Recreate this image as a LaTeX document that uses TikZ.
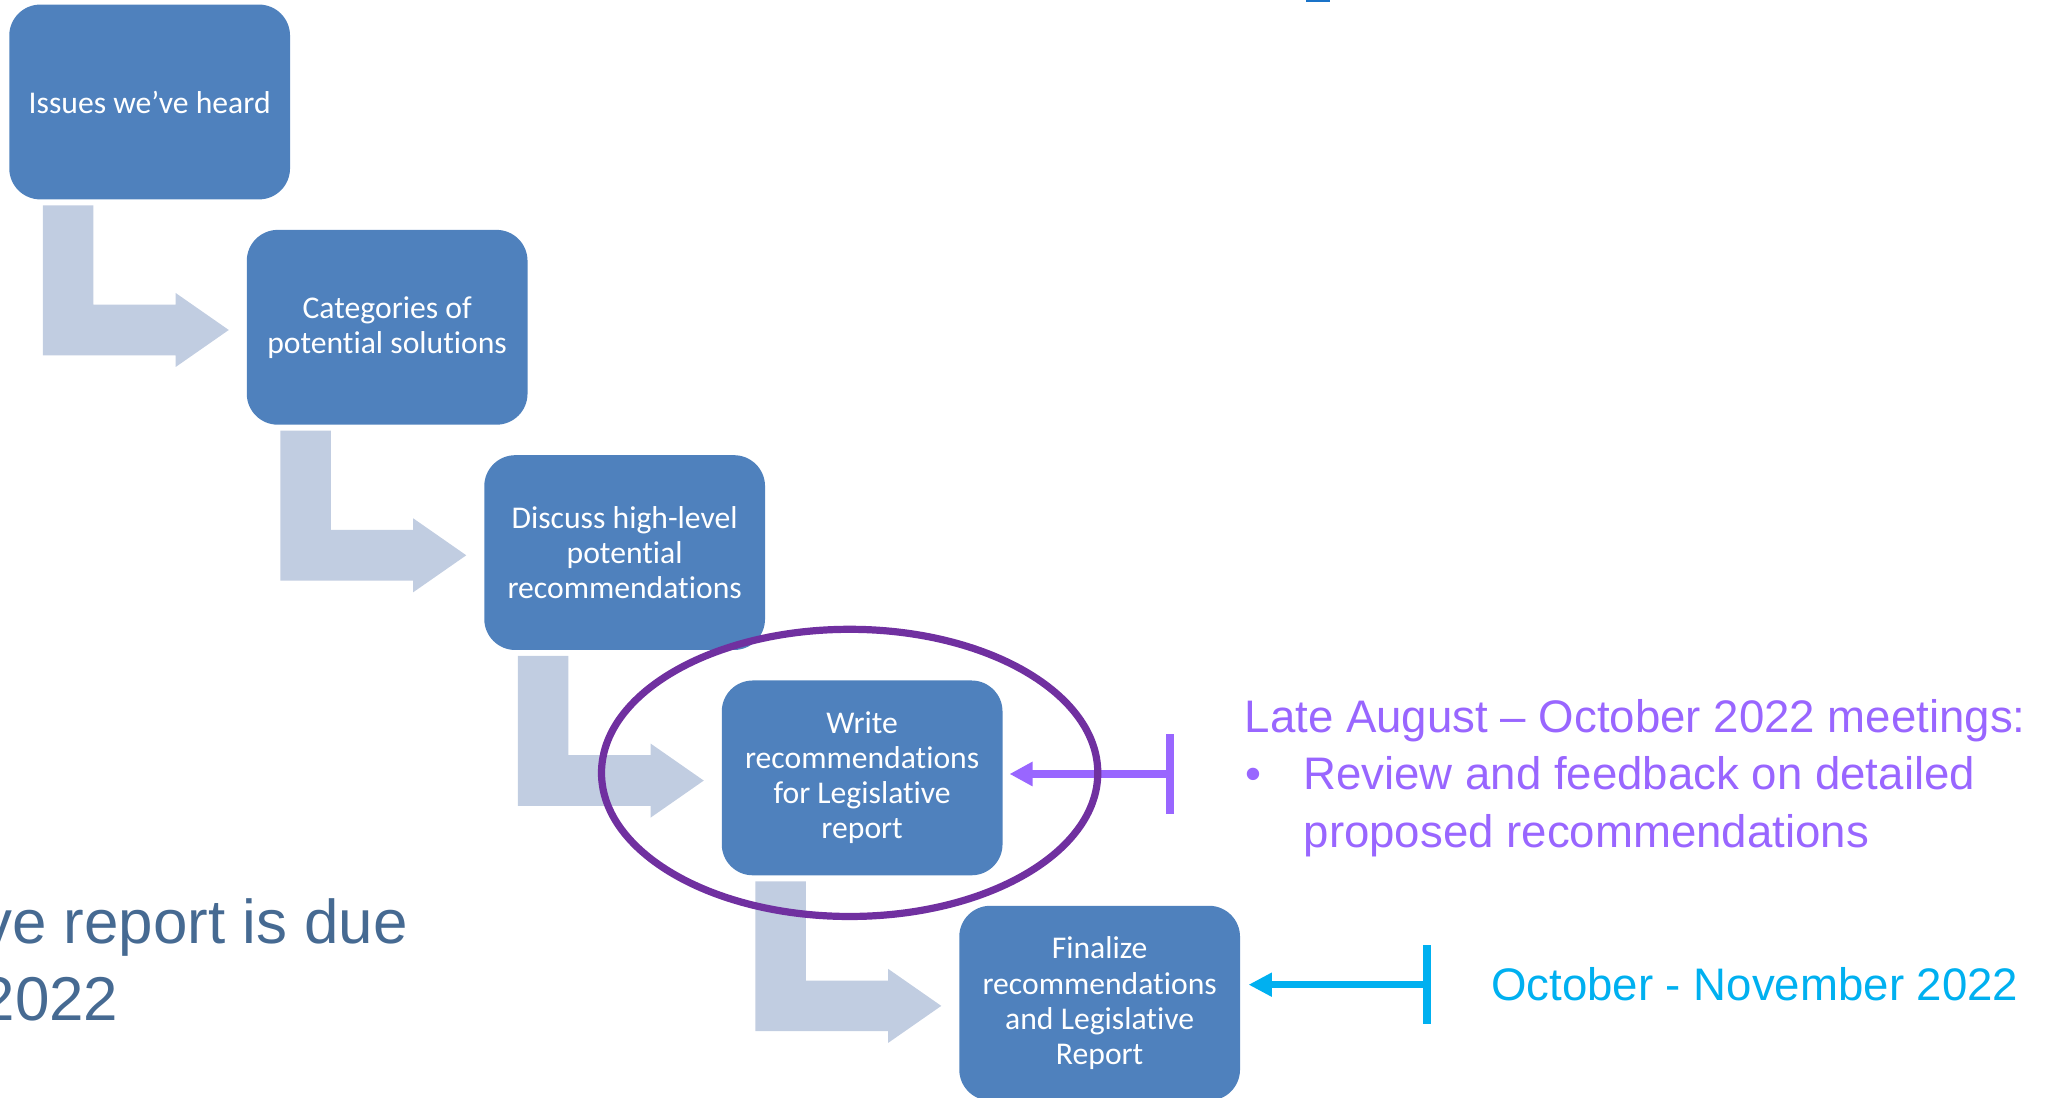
\documentclass[tikz,border=0pt]{standalone}
\usepackage{fontspec}
\setmainfont{Carlito}[Ligatures=NoCommon]
\newfontfamily\arialf{Liberation Sans}
\usetikzlibrary{calc,arrows.meta,shapes.geometric}
\definecolor{boxblue}{RGB}{79,129,189}
\definecolor{arrowgray}{RGB}{193,205,225}
\definecolor{ringpurple}{RGB}{112,48,160}
\definecolor{linkpurple}{RGB}{153,102,255}
\definecolor{linkcyan}{RGB}{0,176,240}
\definecolor{slate}{RGB}{70,106,146}
\definecolor{topblue}{RGB}{26,115,200}
\tikzset{
  stepbox/.style={fill=boxblue, rounded corners=0.31cm, minimum width=2.806cm,
    minimum height=1.947cm, inner sep=0pt, outer sep=0pt, align=center, text=white,
    font=\fontsize{9pt}{10pt}\selectfont},
  flowarrow/.style={fill=arrowgray},
  ring/.style={draw=ringpurple, line width=0.072cm, ellipse, minimum width=4.96cm,
    minimum height=2.87cm, inner sep=0pt},
  purplelink/.style={draw=linkpurple, line width=0.08cm,
    {Bar[width=0.79cm]}-{Triangle[length=0.23cm,width=0.23cm]}},
  cyanlink/.style={draw=linkcyan, line width=0.075cm,
    {Bar[width=0.784cm]}-{Triangle[length=0.234cm,width=0.227cm]}},
  rtext/.style={font=\arialf\fontsize{12.97pt}{16.3pt}\selectfont, inner sep=0pt, anchor=base west},
  ltext/.style={font=\arialf\fontsize{17.6pt}{22.2pt}\selectfont, text=slate, inner sep=0pt, anchor=base east},
}
\newcommand\bentarr[2]{%
  \coordinate (ba) at ($(#1.south west)+(33.5,6)$);
  \coordinate (bb) at ($(#1.south west)+(84.2,6)$);
  \coordinate (bx) at ($(#1.south west)+(166.4,0)$);
  \coordinate (bt) at ($(#2.west)+(-18,2.7)$);
  \coordinate (bt1) at ($(bt)+(0,-25.35)$);
  \coordinate (bt2) at ($(bt)+(0,25.35)$);
  \coordinate (bh1) at ($(bt)+(0,-37)$);
  \coordinate (bh2) at ($(bt)+(0,37)$);
  \fill[flowarrow] (ba) -- (bb) -- (bb |- bt1) -- (bx |- bt1) -- (bx |- bh1) -- (bt)
    -- (bx |- bh2) -- (bx |- bt2) -- (ba |- bt2) -- cycle;
}
\begin{document}
\begin{tikzpicture}[x=0.01cm, y=-0.01cm]
\useasboundingbox (0,0) rectangle (2056,1098);
\clip (0,0) rectangle (2056,1098);

% top mark
\fill[topblue] (1306,0) rectangle (1330,2.5);

% steps
\node[stepbox] (b1) at (149.65,102) {Issues we’ve heard};
\node[stepbox] (b2) at (387.15,327.3) {Categories of\\potential solutions};
\node[stepbox] (b3) at (624.65,552.6) {Discuss high-level\\potential\\recommendations};
\node[stepbox] (b4) at (862.15,777.9) {Write\\recommendations\\for Legislative\\report};
\node[stepbox] (b5) at (1099.65,1003.2) {Finalize\\recommendations\\and Legislative\\Report};

\bentarr{b1}{b2}
\bentarr{b2}{b3}
\bentarr{b3}{b4}
\bentarr{b4}{b5}

% timing connectors
\coordinate (pbar) at (1174,774);
\draw[purplelink, shorten >=0.07cm] (pbar) -- (b4.east |- pbar);
\coordinate (cbar) at (1430.7,984.7);
\draw[cyanlink, shorten >=0.085cm] (cbar) -- (b5.east |- cbar);

% highlight ring
\node[ring] (ring) at ($(b4)+(-12.5,-5)$) {};

% right texts
\node[rtext, text=linkpurple] (late) at (1244,732.7) {Late August – October 2022 meetings:};
\node[rtext, text=linkpurple] (bul) at (1245,790) {•};
\node[rtext, text=linkpurple] (rev1) at (1302.5,790) {Review and feedback on detailed};
\node[rtext, text=linkpurple] (rev2) at (1303,847.3) {proposed recommendations};
\node[rtext, text=linkcyan] (octnov) at (1490.4,1000.5) {October - November 2022};

% left texts (cut off at the left edge, as in the reference)
\node[ltext] (due) at (408.5,943.3) {ve report is due};
\node[ltext] (yr) at (119,1021) {2022};
\end{tikzpicture}
\end{document}
